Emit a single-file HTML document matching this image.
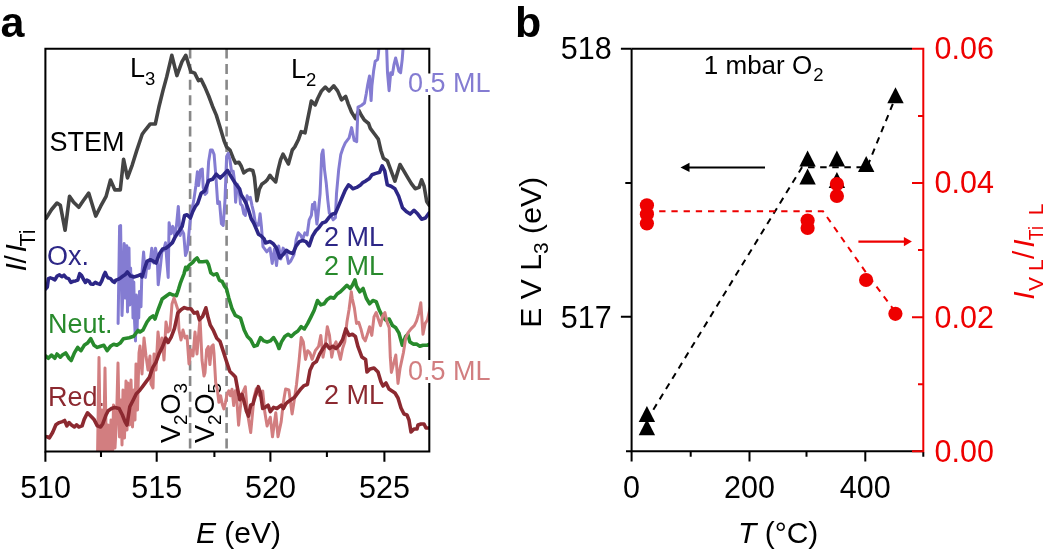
<!DOCTYPE html>
<html><head><meta charset="utf-8"><style>
html,body{margin:0;padding:0;background:#fff;}
body{width:1050px;height:550px;overflow:hidden;}
svg{display:block;will-change:transform;}
</style></head><body>
<svg width="1050" height="550" viewBox="0 0 1050 550" style="font-family:'Liberation Sans',sans-serif">
<defs><clipPath id="ca"><rect x="45.5" y="48.8" width="384" height="402.7"/></clipPath></defs>
<rect width="1050" height="550" fill="#fff"/>
<text x="0.5" y="37" font-size="43" font-weight="bold">a</text>
<text x="515" y="37" font-size="43" font-weight="bold">b</text>
<g stroke="#888" stroke-width="2.6" stroke-dasharray="10,5.6" fill="none">
<line x1="190.1" y1="48.5" x2="190.1" y2="451"/>
<line x1="226.6" y1="48.5" x2="226.6" y2="451"/>
</g>
<text x="130" y="77.3" font-size="27">L<tspan font-size="18.5" dy="7.9">3</tspan></text>
<text x="291" y="78.2" font-size="27">L<tspan font-size="18.5" dy="7.9">2</tspan></text>
<text x="49.6" y="150.8" font-size="27">STEM</text>
<text x="47" y="264.5" font-size="27" fill="#2d2787">Ox.</text>
<text x="48" y="332.5" font-size="27" fill="#288a2c">Neut.</text>
<text x="48" y="406" font-size="27" fill="#8c2930">Red.</text>
<text x="324" y="245.5" font-size="27" fill="#2d2787">2 ML</text>
<text x="324" y="275.4" font-size="27" fill="#288a2c">2 ML</text>
<text x="324" y="403.5" font-size="27" fill="#8c2930">2 ML</text>
<text transform="translate(180,443) rotate(-90)" font-size="27">V<tspan font-size="19" dy="7">2</tspan><tspan dy="-7">O</tspan><tspan font-size="19" dy="7">3</tspan></text>
<text transform="translate(214,443) rotate(-90)" font-size="27">V<tspan font-size="19" dy="7">2</tspan><tspan dy="-7">O</tspan><tspan font-size="19" dy="7">5</tspan></text>
<g clip-path="url(#ca)" fill="none" stroke-linejoin="round" stroke-linecap="round">
<polyline points="46.1,218.3 51.6,209.5 57.0,203.0 60.3,205.2 65.1,230.3 69.5,196.4 73.4,201.9 78.8,207.3 83.2,200.8 88.7,193.1 95.7,216.1 100.7,206.2 106.1,196.4 110.5,180.0 114.9,189.9 120.3,189.9 123.6,159.3 127.5,177.9 132.3,164.8 136.7,150.6 142.2,134.2 145.1,130.3 150.2,124.0 155.3,124.0 159.1,106.2 162.9,90.9 166.7,76.9 171.8,55.3 176.9,75.6 182.0,61.6 185.8,55.3 190.9,71.8 194.7,73.1 198.5,80.7 201.1,79.4 204.9,87.1 208.7,96.0 212.5,106.2 216.3,115.1 220.2,127.8 224.0,140.5 226.5,146.9 229.9,150.0 233.2,158.2 235.6,163.1 238.9,162.3 241.3,166.3 243.8,172.9 247.1,170.4 249.5,169.6 252.8,170.4 254.4,177.0 256.9,200.7 259.3,189.2 261.8,184.3 265.1,181.9 267.5,179.4 270.0,175.3 272.4,178.6 275.7,181.9 278.1,169.6 280.6,159.8 283.0,154.1 288.4,164.0 292.3,150.0 294.8,146.9 298.6,139.2 301.2,131.6 305.0,132.9 307.5,120.2 310.1,107.4 311.3,101.1 315.2,104.9 317.7,98.5 321.5,90.9 325.3,87.1 329.1,90.9 333.8,85.8 337.6,90.9 341.5,99.8 345.7,96.5 348.2,103.8 351.5,112.0 355.5,118.6 358.8,110.4 361.3,115.3 364.5,120.2 368.6,123.5 370.3,128.4 374.5,134.0 378.3,139.1 380.9,150.5 383.4,158.2 387.3,160.7 391.1,170.9 394.9,181.1 400.0,164.5 403.8,170.9 407.6,177.3 411.4,183.6 415.2,188.7 419.1,187.4 421.6,179.8 424.1,186.2 426.7,201.4 429.2,205.2" stroke="#444444" stroke-width="3.6"/>
<polyline points="118.1,323.4 119.6,226.0 120.6,225.5 122.0,315.6 123.0,290.0 124.2,243.6 125.3,298.1 126.0,246.0 126.8,245.8 127.5,312.0 128.3,262.0 129.0,248.0 129.8,305.0 130.6,268.0 131.4,300.0 132.2,275.0 133.0,318.0 133.8,282.0 134.6,322.0 135.5,341.0 136.3,295.0 137.1,330.0 137.9,300.0 138.7,318.0 139.5,291.6 141.0,306.8 141.8,275.6 143.6,252.0 145.5,277.4 147.3,261.0 149.1,268.3 150.9,255.6 151.8,248.3 153.7,262.9 155.5,248.3 157.3,259.2 158.2,284.7 160.0,270.1 161.9,251.9 163.7,250.1 165.5,242.8 167.0,262.9 168.2,277.4 169.1,222.8 171.0,233.7 172.8,226.4 174.6,235.5 176.4,226.4 178.3,206.4 180.1,235.5 181.9,230.1 183.7,233.7 185.5,255.6 187.4,250.1 189.2,230.1 191.0,213.7 193.7,200.9 195.9,185.5 197.4,171.8 198.6,185.5 200.5,170.0 202.3,169.0 203.2,187.3 205.0,194.5 206.8,192.7 208.6,161.8 210.5,150.0 212.3,150.0 214.1,154.5 215.9,176.4 217.7,203.6 219.5,201.8 221.4,223.6 223.2,225.5 225.0,200.0 226.6,156.5 228.3,153.3 229.9,159.8 231.5,171.3 233.2,171.3 234.8,182.7 235.6,202.3 237.3,184.3 238.9,187.6 240.5,203.9 242.2,205.6 243.8,213.8 245.4,215.4 247.1,195.8 248.7,199.0 250.3,197.4 252.0,205.6 253.6,212.1 255.2,221.9 256.9,225.2 258.5,225.2 260.1,213.8 261.3,225.2 263.0,246.7 266.8,251.8 270.0,248.1 272.2,263.4 274.4,249.2 276.5,265.5 278.7,245.9 280.9,259.0 283.1,248.1 286.3,252.5 288.5,263.4 290.7,261.2 294.0,254.6 296.2,239.4 298.3,232.8 300.5,235.0 302.7,239.4 304.9,232.8 307.1,235.0 309.2,219.8 311.4,215.4 312.5,204.5 313.6,208.9 314.7,202.3 315.8,213.2 316.9,224.1 318.0,215.4 320.1,193.6 321.7,154.4 323.0,150.0 324.5,169.6 326.2,182.7 327.8,200.1 329.3,213.2 331.0,215.4 333.2,219.8 335.4,217.6 336.5,193.6 338.7,169.6 340.8,154.4 343.0,148.0 345.3,142.9 349.1,137.8 351.6,127.6 354.2,140.4 356.7,141.6 358.0,107.1 361.3,105.5 364.5,103.0 366.2,94.0 367.8,84.2 369.5,76.0 371.1,100.6 371.9,85.8 373.6,71.1 375.2,61.3 377.6,59.6 378.5,53.1 380.0,30.0 386.0,30.0 387.5,72.7 389.1,90.7 390.7,72.7 392.4,74.4 394.0,64.5 395.6,58.0 397.3,64.5 398.9,71.1 400.6,72.7 402.2,59.6 404.5,30.0 430.0,30.0" stroke="#847cd2" stroke-width="3"/>
<polyline points="45.5,289.0 47.3,287.0 48.4,278.6 50.3,277.9 52.6,278.6 54.9,279.8 57.2,276.0 59.5,274.8 61.8,276.7 64.0,275.2 66.3,277.9 68.6,278.6 70.9,282.4 73.2,281.3 75.5,280.9 77.8,280.1 79.7,273.7 81.6,275.6 83.9,280.1 85.4,282.4 86.9,280.1 89.2,281.3 90.7,284.0 93.0,284.3 95.3,282.4 97.6,283.6 99.9,284.3 101.8,280.9 103.7,275.6 105.2,272.5 106.7,276.0 108.2,277.9 110.5,278.6 112.8,281.3 114.3,282.4 115.9,280.1 118.1,279.4 120.4,277.9 122.7,276.3 125.0,274.8 127.4,272.0 130.6,276.1 133.9,276.9 137.2,276.1 140.5,274.5 142.1,276.9 144.5,268.7 147.0,261.4 150.3,259.7 153.6,261.4 156.0,263.0 159.3,254.0 162.6,249.1 165.8,248.3 169.1,245.8 172.4,242.6 174.8,237.6 177.3,233.6 179.7,230.3 182.2,226.2 184.6,215.5 187.1,214.7 190.4,218.0 192.8,211.5 195.3,206.5 197.7,203.3 201.1,193.3 204.9,190.7 208.7,180.5 212.5,179.3 216.3,174.2 220.2,178.0 224.0,174.2 227.5,170.4 229.9,174.5 232.4,178.6 234.8,182.7 237.3,186.0 239.7,189.2 241.3,195.0 243.8,199.0 246.3,203.9 248.7,210.5 251.2,218.7 253.6,222.7 256.1,228.5 258.5,234.2 261.0,235.8 264.2,239.1 265.5,242.9 270.0,241.6 273.3,243.7 276.5,248.1 279.8,257.9 283.1,254.6 286.3,250.3 289.6,252.5 292.9,253.5 296.2,245.9 299.4,241.6 302.7,240.5 306.0,241.6 309.2,245.9 312.5,236.1 315.8,230.7 319.0,227.4 322.3,223.0 325.6,221.9 328.9,217.6 332.1,214.3 335.4,213.2 338.7,205.6 341.9,198.0 345.2,190.3 348.5,184.9 350.4,186.2 352.9,188.7 356.7,187.4 360.5,184.9 363.1,182.3 365.6,181.1 369.4,178.5 372.0,174.7 375.8,173.4 379.6,172.2 382.2,165.8 384.7,170.9 387.3,184.9 391.1,186.2 394.9,188.7 398.7,196.3 402.5,207.8 406.3,211.6 410.2,214.1 414.0,210.3 417.8,214.1 421.6,219.2 425.4,218.0 429.2,212.9" stroke="#2d2787" stroke-width="3.6"/>
<polyline points="46.1,356.2 48.3,358.3 51.5,355.1 54.8,358.3 57.0,354.0 60.3,357.2 62.4,355.1 65.7,352.9 69.0,358.3 71.2,360.5 74.4,352.9 77.7,347.4 81.0,350.7 84.2,345.3 87.5,343.1 90.8,338.7 94.0,345.3 97.3,347.4 100.6,346.3 103.9,345.3 107.1,350.7 110.4,346.3 113.7,344.2 116.9,345.3 120.2,343.1 123.5,338.7 129.3,337.8 133.7,336.3 138.0,330.5 140.0,332.0 143.0,330.0 147.0,322.0 150.0,318.0 153.0,316.0 155.0,319.0 158.0,310.0 162.2,299.0 166.6,295.7 169.8,293.5 173.1,295.1 176.4,295.7 178.6,289.1 180.2,283.7 181.8,279.3 184.0,273.8 185.7,267.3 187.3,269.5 188.4,266.2 190.0,264.6 192.8,262.4 194.9,259.7 197.1,258.0 199.3,261.8 202.6,261.8 206.9,261.3 208.6,264.6 210.8,272.8 213.5,274.9 216.8,273.8 219.5,280.4 222.2,281.5 224.4,285.9 226.6,289.1 228.8,297.9 232.1,308.9 235.3,315.4 240.5,318.0 244.2,330.0 247.4,336.5 250.7,339.8 254.0,346.3 257.2,345.3 260.5,337.6 263.8,340.9 267.1,342.0 270.3,340.9 273.6,337.6 276.9,343.1 279.0,348.5 281.5,341.9 284.8,336.5 288.1,334.3 291.3,336.5 294.6,333.2 297.9,331.0 301.2,326.7 304.4,328.9 307.7,323.4 311.0,316.9 314.2,310.3 317.5,300.5 320.8,304.9 324.0,303.8 327.3,299.4 330.6,297.2 333.9,298.3 337.1,294.0 340.4,291.8 343.7,288.5 346.9,285.3 350.2,288.5 352.4,285.3 355.0,279.8 356.5,286.3 359.8,291.8 363.1,288.5 366.3,298.3 369.6,303.8 372.9,300.5 376.2,301.6 379.4,310.3 382.7,316.9 386.0,320.1 389.2,319.0 392.5,325.6 395.8,327.8 399.0,333.2 402.3,345.2 405.6,336.5 407.8,334.3 409.9,341.9 413.2,344.1 416.5,344.1 419.8,346.3 423.0,345.2 427.4,345.2 430.0,344.0" stroke="#288a2c" stroke-width="3.6"/>
<polyline points="97.5,458.0 99.0,357.6 100.5,458.0 102.0,410.0 103.5,458.0 105.0,368.0 106.5,458.0 108.0,425.0 109.5,458.0 111.0,420.0 112.5,456.0 113.5,405.0 115.0,448.0 116.5,420.0 118.0,363.0 119.5,437.0 121.0,400.0 122.0,445.0 123.0,390.0 124.5,438.0 126.0,381.0 127.0,430.0 128.0,383.0 129.5,425.0 131.0,380.0 132.5,427.0 134.0,390.0 135.0,420.0 136.0,364.0 137.5,410.0 139.0,353.0 140.0,346.0 142.0,374.0 144.0,338.0 146.0,356.0 148.0,370.0 150.0,356.0 151.0,384.0 153.0,388.0 154.0,354.0 156.0,370.0 158.0,332.0 160.0,350.0 162.0,338.0 164.0,360.0 166.0,322.0 168.0,332.0 170.0,330.0 172.0,304.0 174.0,298.0 176.0,304.0 178.0,310.0 179.0,330.0 181.0,340.0 183.0,330.0 185.0,338.0 187.0,336.0 189.0,364.0 191.0,350.0 193.0,356.0 195.0,332.0 197.0,354.0 200.0,318.0 202.0,360.0 204.0,376.0 205.0,372.8 206.6,349.8 208.3,346.6 209.9,364.6 211.6,346.6 213.2,344.9 214.0,353.1 215.7,382.6 217.3,389.2 218.9,402.3 220.6,395.7 222.2,403.9 223.9,408.9 225.5,402.3 227.1,394.1 228.8,390.8 230.4,395.7 232.0,389.2 233.7,405.6 235.3,390.8 237.0,402.3 238.6,425.2 240.2,408.9 241.9,394.1 244.3,389.2 245.3,386.7 247.4,412.8 250.7,432.5 254.0,397.6 256.2,388.9 259.4,395.4 262.7,391.0 264.9,412.8 267.1,425.9 270.3,417.2 272.5,436.8 275.8,412.8 278.0,436.8 281.2,421.6 283.4,401.9 285.6,388.9 288.9,390.0 292.1,413.9 294.3,399.8 296.5,384.5 299.0,361.6 301.2,337.6 303.3,341.9 305.5,359.4 307.7,350.7 309.9,352.8 312.1,359.4 315.3,350.7 318.6,346.3 320.8,335.4 323.0,357.2 325.1,346.3 327.3,326.7 329.5,335.4 331.7,357.2 333.9,346.3 336.0,341.9 338.2,350.7 340.4,359.4 342.6,348.5 344.8,341.9 346.9,322.3 349.1,309.2 351.3,291.8 352.2,298.3 354.4,308.1 356.5,323.4 358.7,322.3 360.9,328.9 363.1,337.6 365.3,340.8 367.4,334.3 369.6,326.7 371.8,335.4 374.0,316.9 376.2,312.5 378.3,319.0 380.5,325.6 382.7,315.8 384.9,312.5 387.1,322.3 389.2,327.8 390.3,357.2 391.4,372.5 393.6,363.7 395.8,355.0 398.0,383.4 400.1,368.1 403.4,352.8 405.6,338.7 407.8,333.2 411.0,328.9 414.3,325.6 416.5,321.2 418.7,313.6 420.8,302.7 423.0,334.3 425.2,323.4 427.4,320.1 429.6,310.3 432.0,300.0" stroke="#d27e80" stroke-width="3"/>
<polyline points="45.0,436.5 47.2,436.8 49.4,437.9 52.6,432.5 55.9,424.8 59.2,422.6 62.4,421.6 64.6,420.5 66.8,425.9 69.0,422.6 71.2,424.8 74.4,427.0 76.6,424.8 78.8,427.0 82.1,425.9 84.2,419.4 87.5,412.8 89.7,415.0 91.9,417.2 94.0,419.4 97.3,425.9 100.6,427.0 102.8,423.7 106.0,415.0 108.2,410.7 111.5,408.5 114.8,407.4 119.1,408.5 122.4,415.0 125.0,421.6 127.0,425.0 129.8,406.8 133.1,400.3 136.3,393.7 139.6,390.5 142.9,386.1 146.2,381.7 149.4,377.4 152.7,367.6 156.0,362.1 159.2,353.4 162.5,346.9 165.8,338.1 168.0,342.5 171.2,337.1 174.5,328.3 177.8,313.1 181.0,309.8 184.3,307.6 187.6,308.7 190.8,308.7 194.1,313.1 197.2,312.1 199.4,319.8 202.6,316.5 205.9,307.8 208.1,317.6 210.3,325.2 213.5,330.7 216.8,338.3 220.1,341.6 223.3,351.4 226.6,361.7 229.9,371.5 233.3,374.7 235.4,376.9 237.6,388.9 239.8,399.8 242.0,394.3 244.2,401.9 246.3,410.7 248.5,416.1 250.7,405.2 252.9,404.1 255.1,396.5 258.3,386.7 260.5,393.2 262.7,408.5 264.9,407.4 268.1,405.2 270.3,411.7 273.6,407.4 276.9,408.5 281.2,405.2 283.4,408.5 285.6,404.1 287.8,401.9 291.0,399.8 294.3,397.6 297.6,393.2 300.8,388.9 304.1,385.6 307.4,384.5 310.0,370.3 313.1,363.7 316.4,361.6 319.7,353.9 323.0,348.5 326.2,344.1 329.5,348.5 332.8,346.3 336.0,348.5 339.3,345.2 342.6,339.8 345.8,328.9 349.1,335.4 352.4,334.3 355.4,336.5 358.0,346.7 361.8,356.9 365.6,359.4 367.0,372.0 370.0,369.0 374.0,368.0 378.0,372.0 381.0,382.0 383.0,386.0 386.0,383.0 389.0,389.0 392.0,391.0 395.0,393.0 398.0,398.0 401.0,408.0 404.0,414.0 407.0,415.0 409.0,420.0 411.0,432.0 414.0,429.0 417.0,429.0 418.0,425.0 421.0,424.0 424.0,424.0 426.0,428.0 429.5,428.0" stroke="#8c2930" stroke-width="3.6"/>
</g>
<g stroke="#000" stroke-width="2.05" fill="none" stroke-linecap="butt">
<path d="M45.4,48.8 H429.3 V451.5 H45.4 Z"/>
<path d="M45.4,451.5 V461.7 M156.7,451.5 V461.7 M270.4,451.5 V461.7 M384.4,451.5 V461.7 M214.4,451.5 V457 M326.9,451.5 V457 M101,451.5 V457"/>
</g>
<rect x="424" y="73.5" width="12" height="21.5" fill="#fff"/>
<rect x="424" y="360" width="12" height="23" fill="#fff"/>
<text x="408" y="92.2" font-size="27" fill="#847cd2">0.5 ML</text>
<text x="408" y="379.6" font-size="27" fill="#d27e80">0.5 ML</text>
<g font-size="30.5" text-anchor="middle">
<text x="45.6" y="497.6">510</text>
<text x="156.7" y="497.6">515</text>
<text x="270.4" y="497.6">520</text>
<text x="384.4" y="497.6">525</text>
</g>
<text x="196" y="543.3" font-size="30"><tspan font-style="italic">E</tspan> (eV)</text>
<g transform="translate(26,271) rotate(-90)"><text font-size="30" font-style="italic"><tspan x="-0.5" y="0">I</tspan><tspan x="7.4" y="0" font-style="normal">/</tspan><tspan x="18.5" y="0">I</tspan></text><text font-size="22" y="9" x="24.6" textLength="17" lengthAdjust="spacingAndGlyphs">Ti</text></g>
<g stroke="#000" stroke-width="2" fill="none">
<path d="M631.6,48.8 H912 M631.6,48.8 V451.3 H923.3"/>
<path d="M620.9,48.8 H631.6 M620.9,316.8 H631.6 M625.3,183.1 H631.6 M626,451.3 H631.6"/>
<path d="M631.6,451.3 V461.5 M749.5,451.3 V461.5 M865.3,451.3 V461.5 M690.7,451.3 V456.8 M806.5,451.3 V456.8 M923.3,452 V456.8"/>
</g>
<g stroke="#ee0000" stroke-width="2" fill="none">
<path d="M912,48.8 H923.3 V451.3 H912 M912,183 H923.3 M912,317.2 H923.3 M918,115.9 H923.3 M918,250.1 H923.3 M918,384.2 H923.3"/>
</g>
<g font-size="30.5" text-anchor="end">
<text x="611.7" y="59.3">518</text>
<text x="611.7" y="327.5">517</text>
</g>
<g font-size="30.5" text-anchor="middle">
<text x="631.6" y="497.6">0</text><text x="749.5" y="497.6">200</text><text x="865.3" y="497.6">400</text>
</g>
<g font-size="30.5" fill="#ee0000">
<text x="934.5" y="59.2">0.06</text>
<text x="934.5" y="193.4">0.04</text>
<text x="934.5" y="327.6">0.02</text>
<text x="934.5" y="461.8">0.00</text>
</g>
<text x="738" y="543.3" font-size="30"><tspan font-style="italic">T</tspan> (°C)</text>
<text transform="translate(541,327.8) rotate(-90)" font-size="30.2">E V L<tspan font-size="21" dy="6.5">3</tspan><tspan dy="-6.5"> (eV)</tspan></text>
<g transform="translate(1034.3,299.2) rotate(-90)" fill="#ee0000"><text font-size="30" font-style="italic"><tspan x="-0.5" y="0">I</tspan><tspan x="40.3" y="0" font-style="normal">/</tspan><tspan x="51.5" y="0">I</tspan></text><text font-size="21" y="8.8"><tspan x="8.3">V</tspan><tspan x="28.3">L</tspan></text><text font-size="21" y="8.8" x="59" textLength="14" lengthAdjust="spacingAndGlyphs">Ti</text><text font-size="21" y="8.8" x="84">L</text></g>
<text x="703.8" y="73.6" font-size="26">1 mbar O<tspan font-size="18.5" dy="7.6" dx="1">2</tspan></text>
<g fill="none" stroke-width="2">
<polyline points="647,420 802,167.3 867,167.3 896,96" stroke="#000" stroke-dasharray="6.5,5.6"/>
<polyline points="647,211.3 823,211.3 866,272.5 895.4,312" stroke="#ee0000" stroke-dasharray="6.3,5.9"/>
</g>
<line x1="688" y1="167.4" x2="765" y2="167.4" stroke="#000" stroke-width="2"/>
<path d="M680.5,167.4 L689.5,162.8 L689.5,172 Z" fill="#000"/>
<line x1="858.4" y1="241.6" x2="905" y2="241.6" stroke="#ee0000" stroke-width="2.1"/>
<path d="M911.9,241.6 L903.9,237 L903.9,246.2 Z" fill="#ee0000"/>
<g fill="#000">
<path d="M646.9,419.2 L655.1,435.2 L638.7,435.2 Z"/>
<path d="M646.9,406.1 L655.1,422.1 L638.7,422.1 Z"/>
<path d="M807.6,168.5 L815.8,184.5 L799.4,184.5 Z"/>
<path d="M807.6,150.4 L815.8,166.4 L799.4,166.4 Z"/>
<path d="M836.9,172.0 L845.1,188.0 L828.7,188.0 Z"/>
<path d="M836.9,150.5 L845.1,166.5 L828.7,166.5 Z"/>
<path d="M866.2,156.0 L874.4,172.0 L858.0,172.0 Z"/>
<path d="M895.5,87.3 L903.7,103.3 L887.3,103.3 Z"/>
</g>
<g fill="#ee0000">
<circle cx="646.9" cy="223.4" r="7.1"/>
<circle cx="646.9" cy="214.2" r="7.1"/>
<circle cx="646.9" cy="205.3" r="7.1"/>
<circle cx="807.6" cy="227.9" r="7.1"/>
<circle cx="807.6" cy="220.6" r="7.1"/>
<circle cx="836.9" cy="196" r="7.1"/>
<circle cx="836.9" cy="184" r="7.1"/>
<circle cx="866.1" cy="280" r="7.1"/>
<circle cx="895.4" cy="313.8" r="7.1"/>
</g>
</svg>
</body></html>
